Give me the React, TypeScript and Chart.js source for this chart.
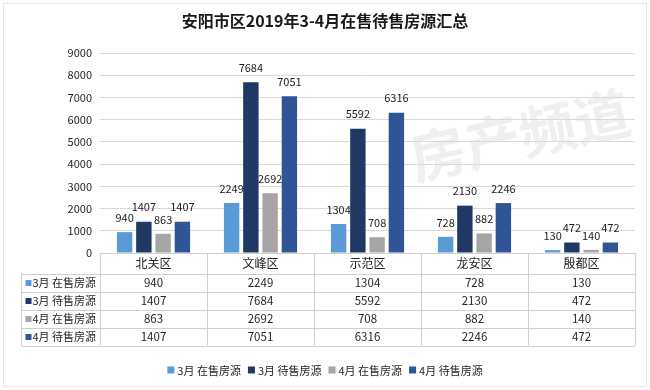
import React, { useEffect, useRef } from "react";
import { Chart, registerables } from "chart.js";

Chart.register(...registerables);

const TITLE = "安阳市区2019年3-4月在售待售房源汇总";
const categories = ["北关区", "文峰区", "示范区", "龙安区", "殷都区"];
const seriesNames = ["3月 在售房源", "3月 待售房源", "4月 在售房源", "4月 待售房源"];
const mar_onSale = [940, 2249, 1304, 728, 130];
const mar_pending = [1407, 7684, 5592, 2130, 472];
const apr_onSale = [863, 2692, 708, 882, 140];
const apr_pending = [1407, 7051, 6316, 2246, 472];
const seriesColors = ["#5B9BD5", "#203864", "#A5A5A5", "#2F5597"];
const yMax = 9000;
const yStep = 1000;

const FONT = '"Noto Sans CJK SC", "Noto Sans", sans-serif';

const overlayPlugin = {
  id: "overlay",
  beforeDraw(chart: any) {
    const { ctx, width, height } = chart;
    ctx.save();
    ctx.fillStyle = "#ffffff";
    ctx.fillRect(0, 0, width, height);
    ctx.strokeStyle = "#E6E6E6";
    ctx.lineWidth = 1;
    ctx.strokeRect(3.5, 3.5, width - 7, height - 7);
    ctx.translate(520, 135);
    ctx.rotate(-0.22);
    ctx.fillStyle = "rgba(190,190,190,0.25)";
    ctx.font = "bold 56px " + FONT;
    ctx.textAlign = "center";
    ctx.textBaseline = "middle";
    ctx.fillText("房产频道", 0, 0);
    ctx.restore();
  },
  afterDatasetsDraw(chart: any) {
    const { ctx } = chart;
    ctx.save();
    ctx.font = "11px " + FONT;
    ctx.fillStyle = "#222";
    ctx.textAlign = "center";
    ctx.textBaseline = "middle";
    chart.data.datasets.forEach((ds: any, di: number) => {
      const meta = chart.getDatasetMeta(di);
      meta.data.forEach((el: any, i: number) => {
        ctx.fillText(String(ds.data[i]), el.x, el.y - 14.5);
      });
    });
    ctx.restore();
  },
  afterDraw(chart: any) {
    const { ctx, chartArea, width } = chart;
    const x = chart.scales.x;
    const left = chartArea.left;
    const right = chartArea.right;
    const bottom = chartArea.bottom;
    const tableLeft = 21.5;
    const headerH = 20.5;
    const rowH = 18;
    const rowsTop = bottom + headerH;
    const tableBottom = rowsTop + rowH * seriesNames.length;
    const colW = (right - left) / categories.length;
    ctx.save();
    ctx.fillStyle = "#1a1a1a";
    ctx.font = "bold 16px " + FONT;
    ctx.textAlign = "center";
    ctx.textBaseline = "middle";
    ctx.fillText(TITLE, width / 2, 21);

    ctx.strokeStyle = "#D0D0D0";
    ctx.lineWidth = 1;
    ctx.beginPath();
    ctx.moveTo(left, Math.round(bottom) + 0.5);
    ctx.lineTo(right, Math.round(bottom) + 0.5);
    for (let r = 0; r <= seriesNames.length; r++) {
      const yy = Math.round(rowsTop + r * rowH) + 0.5;
      ctx.moveTo(tableLeft, yy);
      ctx.lineTo(right, yy);
    }
    ctx.moveTo(tableLeft, rowsTop);
    ctx.lineTo(tableLeft, tableBottom);
    for (let c = 0; c <= categories.length; c++) {
      const xx = Math.round(left + c * colW) + 0.5;
      ctx.moveTo(xx, bottom);
      ctx.lineTo(xx, tableBottom);
    }
    ctx.stroke();

    ctx.fillStyle = "#262626";
    ctx.font = "12px " + FONT;
    ctx.textAlign = "center";
    categories.forEach((c, i) => {
      ctx.fillText(c, x.getPixelForValue(i), bottom + headerH / 2 + 0.5);
    });
    chart.data.datasets.forEach((ds: any, di: number) => {
      const cy = rowsTop + rowH * di + rowH / 2 + 0.5;
      ctx.fillStyle = ds.backgroundColor;
      ctx.fillRect(tableLeft + 4, cy - 3, 6, 6);
      ctx.fillStyle = "#262626";
      ctx.textAlign = "left";
      ctx.font = "11px " + FONT;
      ctx.fillText(seriesNames[di], tableLeft + 11, cy);
      ctx.textAlign = "center";
      ctx.font = "11.5px " + FONT;
      ds.data.forEach((v: number, i: number) => {
        ctx.fillText(String(v), x.getPixelForValue(i), cy);
      });
    });

    ctx.font = "11px " + FONT;
    const box = 7;
    const gapBox = 3;
    const gapItem = 7;
    const widths = seriesNames.map((s) => ctx.measureText(s).width);
    const total = widths.reduce((a, b) => a + b, 0) + seriesNames.length * (box + gapBox) + gapItem * (seriesNames.length - 1);
    let lx = width / 2 - total / 2;
    const ly = 370;
    ctx.textAlign = "left";
    chart.data.datasets.forEach((ds: any, di: number) => {
      ctx.fillStyle = ds.backgroundColor;
      ctx.fillRect(lx, ly - box / 2, box, box);
      lx += box + gapBox;
      ctx.fillStyle = "#262626";
      ctx.fillText(seriesNames[di], lx, ly + 0.5);
      lx += widths[di] + gapItem;
    });
    ctx.restore();
  },
};

export default function App() {
  const ref = useRef<HTMLCanvasElement | null>(null);
  useEffect(() => {
    if (!ref.current) return;
    const seriesData = [mar_onSale, mar_pending, apr_onSale, apr_pending];
    const chart = new Chart(ref.current, {
      type: "bar",
      data: {
        labels: categories,
        datasets: seriesNames.map((name, i) => ({
          label: name,
          data: seriesData[i],
          backgroundColor: seriesColors[i],
          borderWidth: 0,
          categoryPercentage: 0.72,
          barPercentage: 0.8,
        })),
      },
      options: {
        responsive: true,
        maintainAspectRatio: false,
        animation: false,
        layout: { padding: { top: 53, right: 15, bottom: 137, left: 0 } },
        plugins: {
          legend: { display: false },
          title: { display: false },
          tooltip: { enabled: false },
        },
        scales: {
          x: { display: false },
          y: {
            min: 0,
            max: yMax,
            afterFit: (scale: any) => {
              scale.width = 100;
            },
            ticks: {
              stepSize: yStep,
              padding: 8,
              color: "#262626",
              font: { family: FONT, size: 11 },
              callback: (v: any) => String(v),
            },
            grid: { color: "#D9D9D9", drawTicks: false },
            border: { display: false },
          },
        },
      },
      plugins: [overlayPlugin],
    });
    return () => chart.destroy();
  }, []);
  return (
    <div style={{ position: "absolute", left: 0, top: 0, width: 650, height: 390 }}>
      <canvas ref={ref} />
    </div>
  );
}
